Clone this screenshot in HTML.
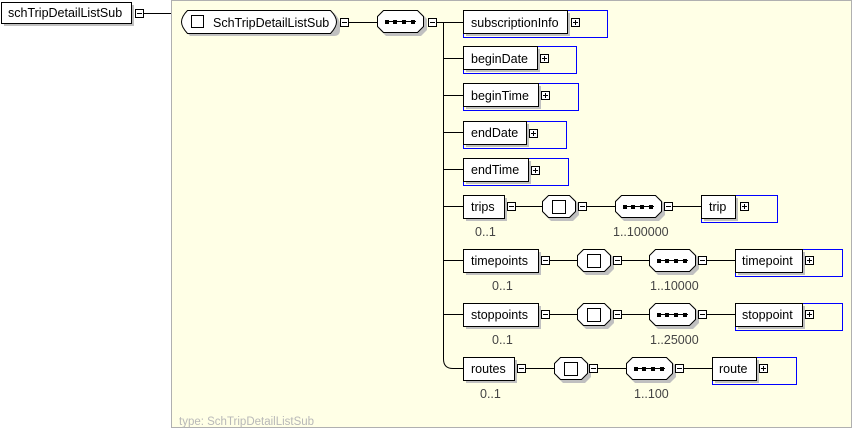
<!DOCTYPE html>
<html><head><meta charset="utf-8"><style>
html,body{margin:0;padding:0;background:#fff;}
svg{display:block;font-family:"Liberation Sans",Arial,sans-serif;font-size:12.5px;}
</style></head><body>
<svg width="854" height="429" viewBox="0 0 854 429" xmlns="http://www.w3.org/2000/svg">
<defs>
<g id="mi"><rect x="0.5" y="0.5" width="8" height="8" fill="#fff" stroke="#000"/><line x1="2" y1="4.5" x2="7" y2="4.5" stroke="#000"/></g>
<g id="pl"><rect x="0.5" y="0.5" width="8" height="8" fill="#fff" stroke="#000"/><line x1="2" y1="4.5" x2="7" y2="4.5" stroke="#000"/><line x1="4.5" y1="2" x2="4.5" y2="7" stroke="#000"/></g>
<g id="seq"><polygon points="6,0 41,0 47,6 47,17 41,23 6,23 0,17 0,6" transform="translate(3,3)" fill="#c0c0c0"/><polygon points="6.5,0.5 40.5,0.5 46.5,6.5 46.5,16.5 40.5,22.5 6.5,22.5 0.5,16.5 0.5,6.5" fill="#fff" stroke="#000"/><line x1="8" y1="11.5" x2="39" y2="11.5" stroke="#000"/><rect x="8" y="10" width="4" height="4"/><rect x="16" y="10" width="4" height="4"/><rect x="25" y="10" width="4" height="4"/><rect x="34" y="10" width="4" height="4"/></g>
<g id="cho"><polygon points="6,0 28,0 34,6 34,17 28,23 6,23 0,17 0,6" transform="translate(3,3)" fill="#c0c0c0"/><polygon points="6.5,0.5 27.5,0.5 33.5,6.5 33.5,16.5 27.5,22.5 6.5,22.5 0.5,16.5 0.5,6.5" fill="#fff" stroke="#000"/><rect x="10.5" y="5.5" width="13" height="13" fill="#fff" stroke="#000"/></g>
</defs>
<rect x="0" y="0" width="854" height="429" fill="#fff"/>
<rect x="171.5" y="0.5" width="680" height="427" fill="#ffffe6" stroke="#b0b0b0"/>
<text x="179" y="425" fill="#b8b8b8" font-size="11.5">type: SchTripDetailListSub</text>
<rect x="4" y="5" width="130" height="21" fill="#c0c0c0"/>
<rect x="1.5" y="2.5" width="130" height="21" fill="#fff" stroke="#000"/>
<text x="8" y="17">schTripDetailListSub</text>
<use href="#mi" x="135" y="9"/>
<line x1="144" y1="13.5" x2="171" y2="13.5" stroke="#000"/>
<path d="M190,13 H334 Q340,19 340,25 V30 Q340,36 334,36 H190 Q184,30 184,25 V19 Z" fill="#c0c0c0"/>
<path d="M187.5,10.5 H330.5 Q336.5,16.5 336.5,22 Q336.5,27 330.5,33.5 H187.5 Q181.5,27 181.5,22 Q181.5,16.5 187.5,10.5 Z" fill="#fff" stroke="#000"/>
<rect x="191.5" y="15.5" width="12" height="12" fill="#fff" stroke="#000"/>
<text x="213" y="27">SchTripDetailListSub</text>
<use href="#mi" x="340" y="18"/>
<line x1="349" y1="22.5" x2="377" y2="22.5" stroke="#000"/>
<use href="#seq" x="377" y="10"/>
<use href="#mi" x="428" y="18"/>
<line x1="437" y1="22.5" x2="463" y2="22.5" stroke="#000"/>
<path d="M443.5,22 V359 Q443.5,368.5 453,368.5 H463" fill="none" stroke="#000"/>
<g stroke="#000"><line x1="443" y1="58.5" x2="463" y2="58.5"/><line x1="443" y1="95.5" x2="463" y2="95.5"/><line x1="443" y1="132.5" x2="463" y2="132.5"/><line x1="443" y1="169.5" x2="463" y2="169.5"/><line x1="443" y1="206.5" x2="463" y2="206.5"/><line x1="443" y1="260.5" x2="463" y2="260.5"/><line x1="443" y1="314.5" x2="463" y2="314.5"/></g>
<rect x="463.5" y="10.5" width="144" height="27" fill="none" stroke="#0000ff"/>
<rect x="466" y="13" width="104" height="23" fill="#c0c0c0"/>
<rect x="463.5" y="10.5" width="104" height="23" fill="#fff" stroke="#000"/>
<text x="471" y="27">subscriptionInfo</text><use href="#pl" x="571" y="18"/>
<rect x="463.5" y="46.5" width="113" height="27" fill="none" stroke="#0000ff"/>
<rect x="466" y="49" width="74" height="23" fill="#c0c0c0"/>
<rect x="463.5" y="46.5" width="74" height="23" fill="#fff" stroke="#000"/>
<text x="471" y="63">beginDate</text><use href="#pl" x="540" y="54"/>
<rect x="463.5" y="83.5" width="115" height="27" fill="none" stroke="#0000ff"/>
<rect x="466" y="86" width="75" height="23" fill="#c0c0c0"/>
<rect x="463.5" y="83.5" width="75" height="23" fill="#fff" stroke="#000"/>
<text x="471" y="100">beginTime</text><use href="#pl" x="541" y="91"/>
<rect x="463.5" y="121.5" width="103" height="27" fill="none" stroke="#0000ff"/>
<rect x="466" y="124" width="63" height="23" fill="#c0c0c0"/>
<rect x="463.5" y="121.5" width="63" height="23" fill="#fff" stroke="#000"/>
<text x="471" y="137">endDate</text><use href="#pl" x="529" y="129"/>
<rect x="463.5" y="158.5" width="105" height="27" fill="none" stroke="#0000ff"/>
<rect x="466" y="161" width="65" height="23" fill="#c0c0c0"/>
<rect x="463.5" y="158.5" width="65" height="23" fill="#fff" stroke="#000"/>
<text x="471" y="174">endTime</text><use href="#pl" x="531" y="166"/>
<rect x="466" y="198" width="41" height="23" fill="#c0c0c0"/>
<rect x="463.5" y="195.5" width="41" height="23" fill="#fff" stroke="#000"/>
<text x="471" y="211">trips</text><use href="#mi" x="507" y="202"/>
<text x="475" y="236" fill="#444">0..1</text>
<line x1="516" y1="206.5" x2="543" y2="206.5" stroke="#000"/>
<use href="#cho" x="542" y="195"/>
<use href="#mi" x="578" y="202"/>
<line x1="587" y1="206.5" x2="615" y2="206.5" stroke="#000"/>
<use href="#seq" x="615" y="195"/>
<use href="#mi" x="664" y="202"/>
<text x="613" y="236" fill="#444">1..100000</text>
<line x1="673" y1="206.5" x2="702" y2="206.5" stroke="#000"/>
<rect x="701.5" y="195.5" width="76" height="27" fill="none" stroke="#0000ff"/>
<rect x="704" y="198" width="34" height="23" fill="#c0c0c0"/>
<rect x="701.5" y="195.5" width="34" height="23" fill="#fff" stroke="#000"/>
<text x="709" y="211">trip</text><use href="#pl" x="740" y="202"/>
<rect x="466" y="252" width="75" height="23" fill="#c0c0c0"/>
<rect x="463.5" y="249.5" width="75" height="23" fill="#fff" stroke="#000"/>
<text x="471" y="265">timepoints</text><use href="#mi" x="541" y="256"/>
<text x="492" y="290" fill="#444">0..1</text>
<line x1="550" y1="260.5" x2="577" y2="260.5" stroke="#000"/>
<use href="#cho" x="577" y="249"/>
<use href="#mi" x="613" y="256"/>
<line x1="622" y1="260.5" x2="649" y2="260.5" stroke="#000"/>
<use href="#seq" x="649" y="249"/>
<use href="#mi" x="698" y="256"/>
<text x="650" y="290" fill="#444">1..10000</text>
<line x1="707" y1="260.5" x2="736" y2="260.5" stroke="#000"/>
<rect x="735.5" y="249.5" width="107" height="27" fill="none" stroke="#0000ff"/>
<rect x="738" y="252" width="67" height="23" fill="#c0c0c0"/>
<rect x="735.5" y="249.5" width="67" height="23" fill="#fff" stroke="#000"/>
<text x="742" y="265">timepoint</text><use href="#pl" x="805" y="256"/>
<rect x="466" y="306" width="75" height="23" fill="#c0c0c0"/>
<rect x="463.5" y="303.5" width="75" height="23" fill="#fff" stroke="#000"/>
<text x="471" y="319">stoppoints</text><use href="#mi" x="541" y="310"/>
<text x="492" y="344" fill="#444">0..1</text>
<line x1="550" y1="314.5" x2="577" y2="314.5" stroke="#000"/>
<use href="#cho" x="577" y="303"/>
<use href="#mi" x="613" y="310"/>
<line x1="622" y1="314.5" x2="649" y2="314.5" stroke="#000"/>
<use href="#seq" x="649" y="303"/>
<use href="#mi" x="698" y="310"/>
<text x="650" y="344" fill="#444">1..25000</text>
<line x1="707" y1="314.5" x2="736" y2="314.5" stroke="#000"/>
<rect x="735.5" y="303.5" width="107" height="27" fill="none" stroke="#0000ff"/>
<rect x="738" y="306" width="67" height="23" fill="#c0c0c0"/>
<rect x="735.5" y="303.5" width="67" height="23" fill="#fff" stroke="#000"/>
<text x="742" y="319">stoppoint</text><use href="#pl" x="805" y="310"/>
<rect x="466" y="360" width="51" height="23" fill="#c0c0c0"/>
<rect x="463.5" y="357.5" width="51" height="23" fill="#fff" stroke="#000"/>
<text x="471" y="373">routes</text><use href="#mi" x="517" y="364"/>
<text x="480" y="398" fill="#444">0..1</text>
<line x1="526" y1="368.5" x2="554" y2="368.5" stroke="#000"/>
<use href="#cho" x="554" y="357"/>
<use href="#mi" x="589" y="364"/>
<line x1="598" y1="368.5" x2="626" y2="368.5" stroke="#000"/>
<use href="#seq" x="626" y="357"/>
<use href="#mi" x="675" y="364"/>
<text x="634" y="398" fill="#444">1..100</text>
<line x1="684" y1="368.5" x2="713" y2="368.5" stroke="#000"/>
<rect x="712.5" y="357.5" width="84" height="27" fill="none" stroke="#0000ff"/>
<rect x="715" y="360" width="44" height="23" fill="#c0c0c0"/>
<rect x="712.5" y="357.5" width="44" height="23" fill="#fff" stroke="#000"/>
<text x="719" y="373">route</text><use href="#pl" x="759" y="364"/>
</svg>
</body></html>
